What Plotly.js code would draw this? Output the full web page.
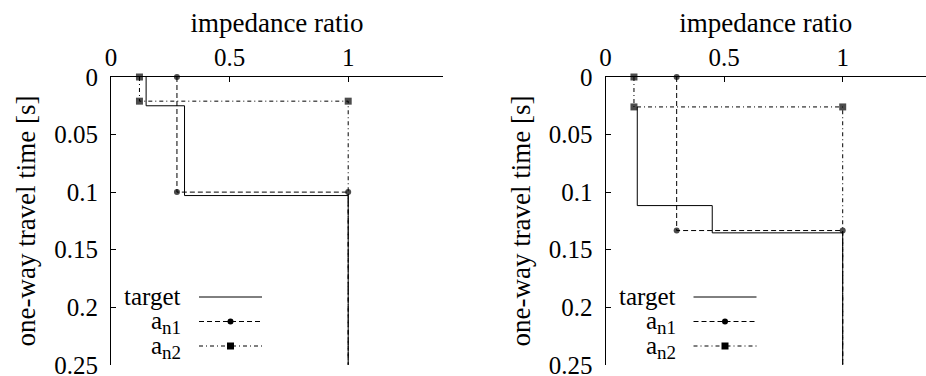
<!DOCTYPE html>
<html>
<head>
<meta charset="utf-8">
<script src="https://cdn.plot.ly/plotly-3.0.1.min.js"></script>
<style>html,body{margin:0;padding:0;background:#fff;}#chart{width:926px;height:376px;}</style>
</head>
<body>
<div id="chart"></div>
<script>
// ---- data (impedance ratio of each layer, and layer boundaries in one-way travel time [s]) ----
const leftTargetImp = [0.148, 0.31, 1.0];
const leftTargetTimes = [0, 0.025, 0.103, 0.25];
const leftAn1Imp = [0.278, 1.0];
const leftAn1Times = [0, 0.100, 0.25];
const leftAn2Imp = [0.12, 1.0];
const leftAn2Times = [0, 0.021, 0.25];

const rightTargetImp = [0.134, 0.45, 1.0];
const rightTargetTimes = [0.026, 0.1117, 0.1354, 0.25];
const rightAn1Imp = [0.30, 1.0];
const rightAn1Times = [0, 0.1334, 0.25];
const rightAn2Imp = [0.12, 1.0];
const rightAn2Times = [0, 0.026, 0.25];

const xTickVals = [0, 0.5, 1];
const xTickText = ['0', '0.5', '1'];
const yTickVals = [0, 0.05, 0.1, 0.15, 0.2, 0.25];
const yTickText = ['0', '0.05', '0.1', '0.15', '0.2', '0.25'];
const seriesNames = ['target', 'a<sub><span style="font-size:19px">n1</span></sub>', 'a<sub><span style="font-size:19px">n2</span></sub>'];

// ---- helpers ----
function steps(imp, times) {
  const x = [], y = [];
  for (let i = 0; i < imp.length; i++) {
    x.push(imp[i], imp[i]);
    y.push(times[i], times[i + 1]);
  }
  return {x, y};
}
function markerSizes(n, s) { return Array.from({length: n}, (_, i) => (i === n - 1 ? 0 : s)); }

const FONT = 'Liberation Serif';
const W = 926, H = 376;
const styles = [
  {dash: 'solid', symbol: null},
  {dash: '5px,3px', symbol: 'circle', size: 6},
  {dash: '4px,3px,1px,3px', symbol: 'square', size: 7}
];

function makeTraces(sets, xa, ya) {
  return sets.map((s, k) => {
    const st = steps(s[0], s[1]);
    const tr = {
      x: st.x, y: st.y, xaxis: xa, yaxis: ya, type: 'scatter',
      mode: styles[k].symbol ? 'lines+markers' : 'lines',
      line: {color: '#000', width: 1, dash: styles[k].dash},
      showlegend: false, hoverinfo: 'skip', cliponaxis: false
    };
    if (styles[k].symbol) {
      tr.marker = {symbol: styles[k].symbol, color: '#000', size: markerSizes(st.x.length, styles[k].size), line: {width: 0}};
    }
    return tr;
  });
}

const traces = [
  ...makeTraces([[leftTargetImp, leftTargetTimes], [leftAn1Imp, leftAn1Times], [leftAn2Imp, leftAn2Times]], 'x', 'y'),
  ...makeTraces([[rightTargetImp, rightTargetTimes], [rightAn1Imp, rightAn1Times], [rightAn2Imp, rightAn2Times]], 'x2', 'y2')
];

// pixel geometry
const plotTop = 77, plotBot = 365;
const leftX0 = 111, leftX1 = 443, rightX0 = 605.5;
const pxPerUnit = 237.2;
const yDom = [1 - plotBot / H, 1 - plotTop / H];

function xAxis(dom, range) {
  return {
    domain: dom, range: range, side: 'top', showline: true, linecolor: '#000', linewidth: 1,
    ticks: 'inside', ticklen: 5, tickwidth: 1, tickcolor: '#000',
    tickvals: xTickVals, ticktext: xTickText, showgrid: false, zeroline: false,
    tickfont: {family: FONT, size: 25, color: '#000'}, ticklabelstandoff: 0, ticklabeloverflow: 'allow',
    title: {text: 'impedance ratio', font: {family: FONT, size: 27, color: '#000'}, standoff: 3},
    fixedrange: true
  };
}
function yAxis(anchor) {
  return {
    domain: yDom, range: [0.2502, 0], anchor: anchor, showline: true, linecolor: '#000', linewidth: 1,
    ticks: 'inside', ticklen: 5, tickwidth: 1, tickcolor: '#000',
    tickvals: yTickVals, ticktext: yTickText, showgrid: false, zeroline: false,
    tickfont: {family: FONT, size: 25, color: '#000'}, ticklabelstandoff: 7, ticklabeloverflow: 'allow',
    title: {text: 'one-way travel time [s]', font: {family: FONT, size: 27, color: '#000'}, standoff: 10},
    fixedrange: true
  };
}

// legend drawn gnuplot-style (text on the left, sample on the right)
const annotations = [], shapes = [];
const legendRows = [297, 321.5, 346];
[leftX0, rightX0].forEach((x0) => {
  legendRows.forEach((ry, k) => {
    annotations.push({
      xref: 'paper', yref: 'paper', x: (x0 + 72) / W, y: 1 - (ry + (k ? 1 : -1)) / H,
      xanchor: 'right', yanchor: 'middle', showarrow: false, text: seriesNames[k],
      font: {family: FONT, size: 25, color: '#000'}
    });
    shapes.push({
      type: 'line', xref: 'paper', yref: 'paper',
      x0: (x0 + 88) / W, x1: (x0 + 151) / W, y0: 1 - ry / H, y1: 1 - ry / H,
      line: {color: '#000', width: 1, dash: styles[k].dash}
    });
    const cx = x0 + 119.5;
    if (styles[k].symbol === 'circle') {
      shapes.push({type: 'circle', xref: 'paper', yref: 'paper', x0: (cx - 3) / W, x1: (cx + 3) / W,
        y0: 1 - (ry + 3) / H, y1: 1 - (ry - 3) / H, fillcolor: '#000', line: {width: 0}});
    } else if (styles[k].symbol === 'square') {
      shapes.push({type: 'rect', xref: 'paper', yref: 'paper', x0: (cx - 3.5) / W, x1: (cx + 3.5) / W,
        y0: 1 - (ry + 3.5) / H, y1: 1 - (ry - 3.5) / H, fillcolor: '#000', line: {width: 0}});
    }
  });
});

const layout = {
  width: W, height: H, margin: {l: 0, r: 0, t: 0, b: 0},
  font: {family: FONT, color: '#000'},
  paper_bgcolor: '#fff', plot_bgcolor: '#fff', showlegend: false,
  xaxis: xAxis([leftX0 / W, leftX1 / W], [0, (leftX1 - leftX0) / pxPerUnit]),
  yaxis: yAxis('x'),
  xaxis2: xAxis([rightX0 / W, 1], [0, (W - rightX0) / pxPerUnit]),
  yaxis2: yAxis('x2'),
  annotations: annotations, shapes: shapes
};
layout.xaxis.anchor = 'y';
layout.xaxis2.anchor = 'y2';

Plotly.newPlot('chart', traces, layout, {displayModeBar: false, staticPlot: true});
</script>
</body>
</html>
